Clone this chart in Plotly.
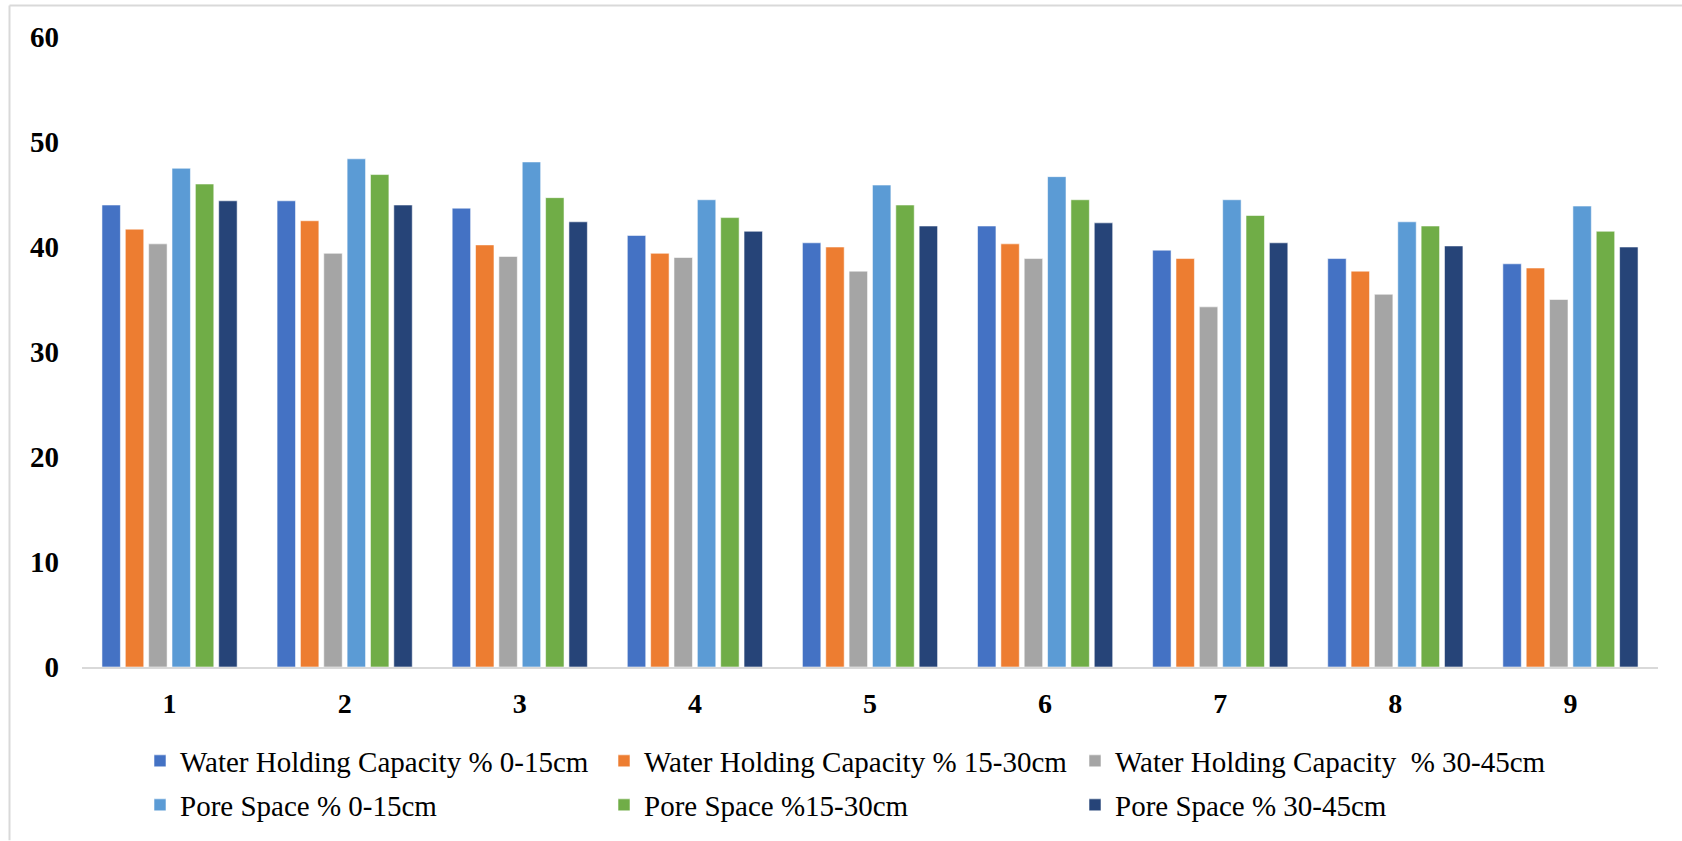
import plotly.graph_objects as go

# Sample plots 1-9
plots = ["1", "2", "3", "4", "5", "6", "7", "8", "9"]

whc_0_15 = [44.0, 44.4, 43.7, 41.1, 40.4, 42.0, 39.7, 38.9, 38.4]
whc_15_30 = [41.7, 42.5, 40.2, 39.4, 40.0, 40.3, 38.9, 37.7, 38.0]
whc_30_45 = [40.3, 39.4, 39.1, 39.0, 37.7, 38.9, 34.3, 35.5, 35.0]
pore_0_15 = [47.5, 48.4, 48.1, 44.5, 45.9, 46.7, 44.5, 42.4, 43.9]
pore_15_30 = [46.0, 46.9, 44.7, 42.8, 44.0, 44.5, 43.0, 42.0, 41.5]
pore_30_45 = [44.4, 44.0, 42.4, 41.5, 42.0, 42.3, 40.4, 40.1, 40.0]

series_names = [
    "Water Holding Capacity % 0-15cm",
    "Water Holding Capacity % 15-30cm",
    "Water Holding Capacity \u00a0% 30-45cm",
    "Pore Space % 0-15cm",
    "Pore Space %15-30cm",
    "Pore Space % 30-45cm",
]
series_values = [whc_0_15, whc_15_30, whc_30_45, pore_0_15, pore_15_30, pore_30_45]
series_colors = ["#4472C4", "#ED7D31", "#A5A5A5", "#5B9BD5", "#70AD47", "#264478"]

y_ticks = [0, 10, 20, 30, 40, 50, 60]

W, H = 1682, 841
FONT = "Liberation Serif"

fig = go.Figure()
legend_ids = ["legend", "legend2", "legend3", "legend4", "legend5", "legend6"]
for name, vals, col, lg in zip(series_names, series_values, series_colors, legend_ids):
    fig.add_trace(go.Bar(
        x=plots, y=vals, name=name,
        marker=dict(color=col, line=dict(color="rgba(255,255,255,0.55)", width=1)),
        legend=lg,
    ))

# legend item positions (left edge of text, row centre) in pixels
text_x = [180, 644, 1115, 180, 644, 1115]
row_y = [761, 761, 761, 805, 805, 805]
legend_layout = {}
for lg, tx, ty in zip(legend_ids, text_x, row_y):
    legend_layout[lg] = dict(
        xref="container", yref="container",
        x=(tx - 40) / W, y=1 - ty / H,
        xanchor="left", yanchor="middle",
        orientation="h", itemwidth=30,
        font=dict(family=FONT, size=29, color="#000000"),
        bgcolor="rgba(0,0,0,0)", borderwidth=0,
        itemclick=False, itemdoubleclick=False,
    )

fig.update_layout(
    width=W, height=H,
    margin=dict(l=82, r=24, t=37, b=174, autoexpand=False),
    paper_bgcolor="white", plot_bgcolor="white",
    barmode="group", bargap=0.20, bargroupgap=0.21,
    font=dict(family=FONT, color="#000000"),
    showlegend=True,
    **legend_layout,
    xaxis=dict(
        type="category", showgrid=False, zeroline=False,
        showline=True, linecolor="#D9D9D9", linewidth=2,
        ticks="", ticklabelstandoff=10,
        tickfont=dict(family=FONT, size=28, color="#000000", weight="bold"),
    ),
    yaxis=dict(
        range=[0, 60], tickvals=y_ticks, showgrid=False, zeroline=False,
        showline=False, ticks="", ticklabelstandoff=22,
        tickfont=dict(family=FONT, size=29, color="#000000", weight="bold"),
    ),
    shapes=[
        # chart frame (top and left edges)
        dict(type="line", xref="x domain", yref="y domain",
             x0=(9.5 - 82) / 1576, x1=(W - 82) / 1576,
             y0=(667.5 - 5.5) / 630.5, y1=(667.5 - 5.5) / 630.5,
             line=dict(color="#D9D9D9", width=2)),
        dict(type="line", xref="x domain", yref="y domain",
             x0=(9.5 - 82) / 1576, x1=(9.5 - 82) / 1576,
             y0=(667.5 - 5.5) / 630.5, y1=(667.5 - H) / 630.5,
             line=dict(color="#D9D9D9", width=2)),
    ],
)

fig.write_html("out.html")
